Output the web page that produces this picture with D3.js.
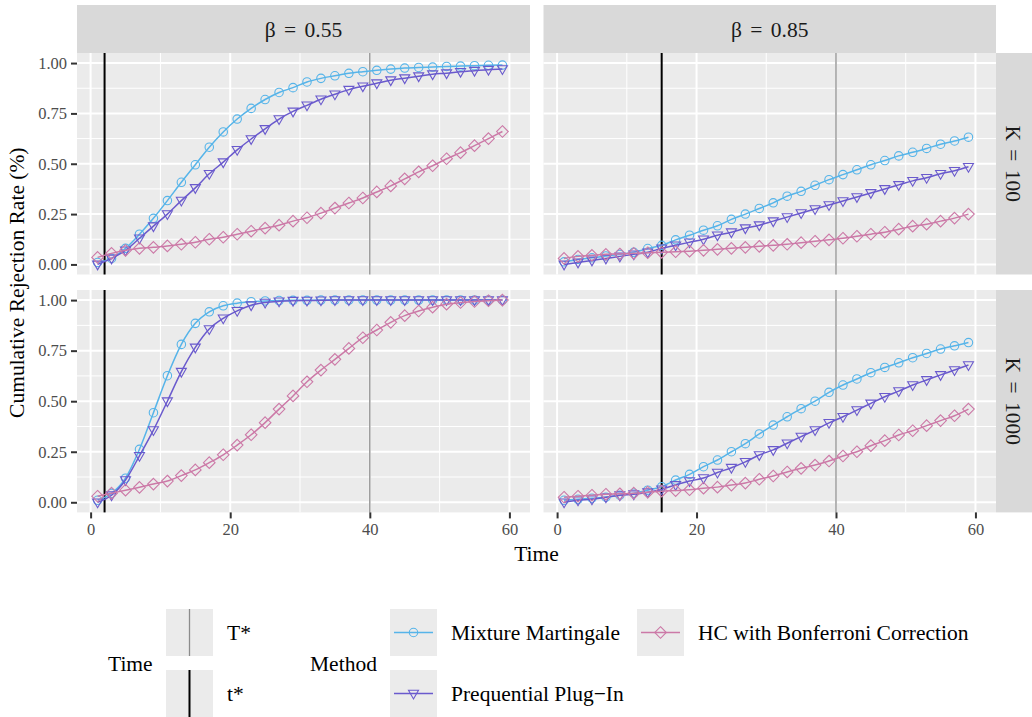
<!DOCTYPE html>
<html>
<head>
<meta charset="utf-8">
<script src="https://cdn.jsdelivr.net/npm/d3@7"></script>
<style>
  html, body { margin: 0; padding: 0; background: #fff; }
  svg { display: block; }
  svg text { font-family: "Liberation Serif", "Times New Roman", serif; }
</style>
</head>
<body>
<svg id="chart" width="1032" height="717"></svg>
<script>
// ---------- data ----------
const times = [1,3,5,7,9,11,13,15,17,19,21,23,25,27,29,31,33,35,37,39,41,43,45,47,49,51,53,55,57,59];
const betaLabels = ["β = 0.55", "β = 0.85"];
const kLabels = ["K = 100", "K = 1000"];
const methods = ["Mixture Martingale", "Prequential Plug\u2212In", "HC with Bonferroni Correction"];
const xTicks = [0, 20, 40, 60];
const yTicks = [0, 0.25, 0.5, 0.75, 1];
const yTickLabels = ["0.00", "0.25", "0.50", "0.75", "1.00"];
const tStar = [2, 15];     // per beta column
const TStar = [40, 40];    // per beta column

// beta = 0.55, K = 100
const mm_b55_k100 = [0.01,0.03,0.08,0.15,0.229,0.317,0.408,0.495,0.582,0.658,0.722,0.775,0.819,0.854,0.878,0.906,0.924,0.937,0.949,0.957,0.964,0.97,0.975,0.978,0.98,0.983,0.985,0.987,0.989,0.99];
const pp_b55_k100 = [0.0,0.03,0.07,0.13,0.19,0.25,0.317,0.38,0.45,0.508,0.569,0.623,0.673,0.722,0.76,0.79,0.82,0.845,0.868,0.885,0.90,0.915,0.925,0.935,0.945,0.95,0.957,0.962,0.967,0.97];
const hc_b55_k100 = [0.035,0.055,0.07,0.08,0.085,0.092,0.10,0.11,0.125,0.135,0.15,0.165,0.18,0.195,0.215,0.232,0.255,0.28,0.305,0.33,0.36,0.39,0.425,0.46,0.49,0.525,0.555,0.59,0.625,0.66];
// beta = 0.55, K = 1000
const mm_b55_k1000 = [0.01,0.044,0.119,0.262,0.443,0.626,0.781,0.885,0.942,0.972,0.985,0.992,0.996,0.998,0.999,0.999,1,1,1,1,1,1,1,1,1,1,1,1,1,1];
const pp_b55_k1000 = [0.0,0.035,0.11,0.23,0.357,0.50,0.646,0.766,0.857,0.91,0.947,0.975,0.988,0.994,0.997,0.998,0.999,1,1,1,1,1,1,1,1,1,1,1,1,1];
const hc_b55_k1000 = [0.03,0.045,0.06,0.074,0.09,0.105,0.132,0.16,0.196,0.235,0.283,0.334,0.394,0.461,0.526,0.596,0.654,0.707,0.761,0.814,0.852,0.89,0.923,0.946,0.965,0.98,0.988,0.993,0.997,1.0];
// beta = 0.85, K = 100
const mm_b85_k100 = [0.013,0.025,0.033,0.042,0.05,0.06,0.079,0.095,0.122,0.145,0.17,0.192,0.224,0.25,0.278,0.306,0.339,0.363,0.393,0.421,0.446,0.47,0.495,0.516,0.539,0.557,0.576,0.597,0.613,0.632];
const pp_b85_k100 = [0.0,0.01,0.02,0.03,0.04,0.05,0.06,0.08,0.095,0.11,0.125,0.145,0.16,0.18,0.195,0.215,0.235,0.255,0.275,0.295,0.315,0.335,0.355,0.375,0.395,0.415,0.43,0.45,0.465,0.485];
const hc_b85_k100 = [0.03,0.04,0.045,0.05,0.052,0.055,0.058,0.06,0.063,0.066,0.07,0.075,0.08,0.085,0.09,0.095,0.10,0.108,0.115,0.122,0.13,0.14,0.15,0.16,0.175,0.19,0.20,0.215,0.23,0.25];
// beta = 0.85, K = 1000
const mm_b85_k1000 = [0.01,0.015,0.02,0.025,0.035,0.045,0.06,0.077,0.11,0.138,0.176,0.209,0.25,0.29,0.338,0.382,0.423,0.463,0.50,0.544,0.58,0.61,0.641,0.667,0.69,0.715,0.736,0.758,0.774,0.79];
const pp_b85_k1000 = [0.0,0.01,0.015,0.025,0.035,0.04,0.05,0.064,0.086,0.105,0.12,0.147,0.171,0.20,0.234,0.259,0.292,0.325,0.357,0.393,0.423,0.456,0.489,0.522,0.55,0.58,0.605,0.63,0.654,0.679];
const hc_b85_k1000 = [0.025,0.03,0.035,0.04,0.042,0.045,0.05,0.055,0.058,0.062,0.07,0.075,0.085,0.095,0.114,0.13,0.15,0.168,0.184,0.204,0.229,0.25,0.28,0.305,0.333,0.354,0.379,0.404,0.428,0.461];

const panelData = [
  [ [mm_b55_k100, pp_b55_k100, hc_b55_k100], [mm_b85_k100, pp_b85_k100, hc_b85_k100] ],
  [ [mm_b55_k1000, pp_b55_k1000, hc_b55_k1000], [mm_b85_k1000, pp_b85_k1000, hc_b85_k1000] ]
];

// ---------- style ----------
const colors = ["#56B4E9", "#6A5ACD", "#CC79A7"];
const shapes = ["circle", "triangleDown", "diamond"];
const panelBg = "#EBEBEB", stripBg = "#D9D9D9";
const FONT = "'Liberation Serif', 'Times New Roman', serif";
const TITLE_SIZE = 21.5, TICK_SIZE = 16.5;

// ---------- layout ----------
const svg = d3.select("#chart");
const cols = [{x0: 77, x1: 530}, {x0: 543.5, x1: 996}];
const rows = [{y0: 53, y1: 274.5}, {y0: 290, y1: 512.4}];
const stripTop = 5, stripRight = 1032;

function markerPath(shape) {
  if (shape === "circle") return d3.symbol(d3.symbolCircle, 56)();
  if (shape === "triangleDown") return "M-5,-3.3L5,-3.3L0,5.4Z";
  return "M0,-5.8L5.8,0L0,5.8L-5.8,0Z";
}
function txt(sel) { return sel.style("font-family", FONT); }

cols.forEach((c, ci) => {
  svg.append("rect").attr("x", c.x0).attr("y", stripTop).attr("width", c.x1 - c.x0).attr("height", rows[0].y0 - stripTop).attr("fill", stripBg);
  txt(svg.append("text")).attr("x", (c.x0 + c.x1) / 2).attr("y", (stripTop + rows[0].y0) / 2).attr("dy", "0.35em")
    .attr("text-anchor", "middle").attr("font-size", TITLE_SIZE).style("word-spacing", "3px").attr("fill", "#1A1A1A").text(betaLabels[ci]);
});
rows.forEach((r, ri) => {
  const x0 = cols[1].x1;
  svg.append("rect").attr("x", x0).attr("y", r.y0).attr("width", stripRight - x0).attr("height", r.y1 - r.y0).attr("fill", stripBg);
  txt(svg.append("text")).attr("transform", `translate(${(x0 + stripRight) / 2},${(r.y0 + r.y1) / 2}) rotate(90)`)
    .attr("dy", "0.35em").attr("text-anchor", "middle").attr("font-size", TITLE_SIZE).style("word-spacing", "3px").attr("fill", "#1A1A1A").text(kLabels[ri]);
});

rows.forEach((r, ri) => {
  cols.forEach((c, ci) => {
    const x = d3.scaleLinear().domain([-1.95, 62.95]).range([c.x0, c.x1]);
    const y = d3.scaleLinear().domain([-0.05, 1.05]).range([r.y1, r.y0]);
    const g = svg.append("g");
    g.append("rect").attr("x", c.x0).attr("y", r.y0).attr("width", c.x1 - c.x0).attr("height", r.y1 - r.y0).attr("fill", panelBg);
    [10, 30, 50].forEach(v => g.append("line").attr("x1", x(v)).attr("x2", x(v)).attr("y1", r.y0).attr("y2", r.y1).attr("stroke", "#fff").attr("stroke-width", 1));
    [0.125, 0.375, 0.625, 0.875].forEach(v => g.append("line").attr("x1", c.x0).attr("x2", c.x1).attr("y1", y(v)).attr("y2", y(v)).attr("stroke", "#fff").attr("stroke-width", 1));
    xTicks.forEach(v => g.append("line").attr("x1", x(v)).attr("x2", x(v)).attr("y1", r.y0).attr("y2", r.y1).attr("stroke", "#fff").attr("stroke-width", 2));
    yTicks.forEach(v => g.append("line").attr("x1", c.x0).attr("x2", c.x1).attr("y1", y(v)).attr("y2", y(v)).attr("stroke", "#fff").attr("stroke-width", 2));

    g.append("line").attr("x1", x(TStar[ci])).attr("x2", x(TStar[ci])).attr("y1", r.y0).attr("y2", r.y1).attr("stroke", "#8C8C8C").attr("stroke-width", 1.3);
    g.append("line").attr("x1", x(tStar[ci])).attr("x2", x(tStar[ci])).attr("y1", r.y0).attr("y2", r.y1).attr("stroke", "#000").attr("stroke-width", 2);

    const series = panelData[ri][ci];
    series.forEach((vals, mi) => {
      const pts = times.map((t, i) => [t, vals[i]]);
      const line = d3.line().x(d => x(d[0])).y(d => y(d[1])).curve(d3.curveMonotoneX);
      g.append("path").attr("d", line(pts)).attr("fill", "none").attr("stroke", colors[mi]).attr("stroke-width", 1.5);
      g.selectAll(null).data(pts).enter().append("path")
        .attr("d", markerPath(shapes[mi]))
        .attr("transform", d => `translate(${x(d[0])},${y(d[1])})`)
        .attr("fill", "none").attr("stroke", colors[mi]).attr("stroke-width", 1.1);
    });

    if (ci === 0) {
      const ax = d3.axisLeft(y).tickValues(yTicks).tickFormat((d, i) => yTickLabels[i]).tickSize(6).tickPadding(4);
      const a = svg.append("g").attr("transform", `translate(${c.x0},0)`).call(ax);
      a.attr("font-family", null);
      a.select(".domain").remove();
      a.selectAll(".tick line").attr("stroke", "#333").attr("stroke-width", 2);
      a.selectAll(".tick text").attr("fill", "#4D4D4D").attr("font-size", TICK_SIZE).style("font-family", FONT);
    }
    if (ri === 1) {
      const ax = d3.axisBottom(x).tickValues(xTicks).tickSize(6).tickPadding(5);
      const a = svg.append("g").attr("transform", `translate(0,${r.y1})`).call(ax);
      a.attr("font-family", null);
      a.select(".domain").remove();
      a.selectAll(".tick line").attr("stroke", "#333").attr("stroke-width", 2);
      a.selectAll(".tick text").attr("fill", "#4D4D4D").attr("font-size", TICK_SIZE).style("font-family", FONT);
    }
  });
});

// axis titles
txt(svg.append("text")).attr("x", (cols[0].x0 + cols[1].x1) / 2).attr("y", 561).attr("text-anchor", "middle").attr("font-size", TITLE_SIZE).attr("fill", "#000").text("Time");
txt(svg.append("text")).attr("transform", `translate(24,${(rows[0].y0 + rows[1].y1) / 2}) rotate(-90)`).attr("text-anchor", "middle").attr("font-size", TITLE_SIZE).attr("fill", "#000").text("Cumulative Rejection Rate (%)");

// ---------- legend ----------
const keyW = 47, keyH = 47;
const leg = svg.append("g");
txt(leg.append("text")).attr("x", 108).attr("y", 663).attr("dy", "0.35em").attr("font-size", TITLE_SIZE).text("Time");
const timeKeys = [{label: "T*", color: "#8C8C8C", w: 1.3}, {label: "t*", color: "#000", w: 2}];
timeKeys.forEach((k, i) => {
  const ky = 609 + i * 61;
  leg.append("rect").attr("x", 166).attr("y", ky).attr("width", keyW).attr("height", keyH).attr("fill", panelBg);
  leg.append("line").attr("x1", 166 + keyW / 2).attr("x2", 166 + keyW / 2).attr("y1", ky).attr("y2", ky + keyH).attr("stroke", k.color).attr("stroke-width", k.w);
  txt(leg.append("text")).attr("x", 227).attr("y", ky + keyH / 2).attr("dy", "0.35em").attr("font-size", TITLE_SIZE).text(k.label);
});
txt(leg.append("text")).attr("x", 310).attr("y", 663).attr("dy", "0.35em").attr("font-size", TITLE_SIZE).text("Method");
const methodPos = [{x: 390, y: 609}, {x: 390, y: 670}, {x: 637, y: 609}];
methods.forEach((m, i) => {
  const p = methodPos[i];
  leg.append("rect").attr("x", p.x).attr("y", p.y).attr("width", keyW).attr("height", keyH).attr("fill", panelBg);
  leg.append("line").attr("x1", p.x + 4).attr("x2", p.x + keyW - 4).attr("y1", p.y + keyH / 2).attr("y2", p.y + keyH / 2).attr("stroke", colors[i]).attr("stroke-width", 1.5);
  leg.append("path").attr("d", markerPath(shapes[i])).attr("transform", `translate(${p.x + keyW / 2},${p.y + keyH / 2})`).attr("fill", "none").attr("stroke", colors[i]).attr("stroke-width", 1.1);
  txt(leg.append("text")).attr("x", p.x + 61).attr("y", p.y + keyH / 2).attr("dy", "0.35em").attr("font-size", TITLE_SIZE).text(m);
});
</script>
</body>
</html>
